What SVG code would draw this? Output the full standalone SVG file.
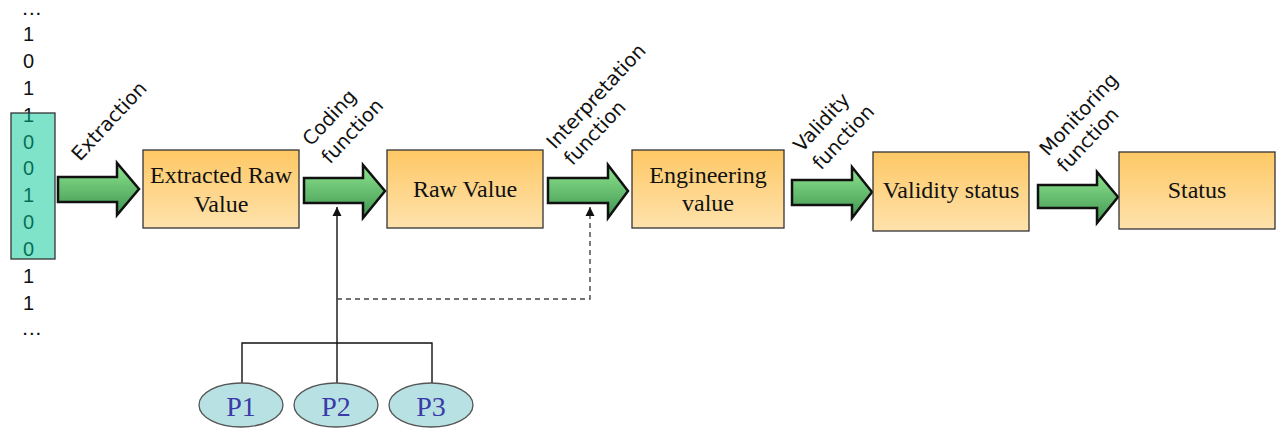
<svg xmlns="http://www.w3.org/2000/svg" width="1277" height="428" viewBox="0 0 1277 428">
<defs>
<linearGradient id="gBox" x1="0" y1="0" x2="0" y2="1">
<stop offset="0" stop-color="#fec865"/>
<stop offset="1" stop-color="#fee2ac"/>
</linearGradient>
<linearGradient id="gArr" x1="0" y1="0" x2="0" y2="1">
<stop offset="0" stop-color="#8fe68f"/>
<stop offset="1" stop-color="#3f9450"/>
</linearGradient>
<marker id="ah" viewBox="0 0 10 10" refX="10" refY="5" markerWidth="9" markerHeight="10" markerUnits="userSpaceOnUse" orient="auto">
<path d="M0,0 L10,5 L0,10 Z" fill="#111"/>
</marker>
</defs>
<style>
.box{fill:url(#gBox);stroke:#333;stroke-width:1.3}
.btxt{font-family:"Liberation Serif","Times New Roman",serif;font-size:24px;fill:#111;text-anchor:middle}
.arr{fill:url(#gArr);stroke:#111;stroke-width:2.5;stroke-linejoin:miter}
.lbl{font-family:"DejaVu Sans",Verdana,sans-serif;font-size:19.5px;fill:#111}
.bit{font-family:"Liberation Sans",Arial,sans-serif;font-size:20px;fill:#111}
.dots{font-family:"Liberation Sans",Arial,sans-serif;font-size:15px;font-weight:bold;letter-spacing:2.5px;fill:#111}
.ell{fill:#b7e1e3;stroke:#555;stroke-width:1.3}
.ptxt{font-family:"Liberation Serif","Times New Roman",serif;font-size:28px;fill:#3a3aa8;text-anchor:middle}
.ln{fill:none;stroke:#111;stroke-width:1.4}
.dash{fill:none;stroke:#444;stroke-width:1.4;stroke-dasharray:5,4}
</style>
<rect width="1277" height="428" fill="#fff"/>

<g id="bitstream">
<text class="dots" x="23" y="15">...</text>
<text class="bit" x="23" y="41">1</text>
<text class="bit" x="23" y="68">0</text>
<text class="bit" x="23" y="95">1</text>
<text class="bit" x="23" y="122">1</text>
<text class="bit" x="23" y="149">0</text>
<text class="bit" x="23" y="175">0</text>
<text class="bit" x="23" y="202">1</text>
<text class="bit" x="23" y="229">0</text>
<text class="bit" x="23" y="256">0</text>
<text class="bit" x="23" y="283">1</text>
<text class="bit" x="23" y="310">1</text>
<text class="dots" x="23" y="335">...</text>
<rect x="11" y="113" width="44" height="146" fill="#00c896" fill-opacity="0.5" stroke="#333" stroke-width="1.3"/>
</g>

<g id="arrows">
<path class="arr" d="M58,177 H117 V163 L139,189 L117,215 V202 H58 Z"/>
<path class="arr" d="M304,178 H363 V165 L385,191 L363,218 V203 H304 Z"/>
<path class="arr" d="M548,178 H608 V165 L628,191 L608,218 V203 H548 Z"/>
<path class="arr" d="M792,180 H852 V167 L872,192 L852,218 V205 H792 Z"/>
<path class="arr" d="M1038,185 H1097 V172 L1118,197 L1097,223 V208 H1038 Z"/>
</g>

<g id="labels">
<text class="lbl" transform="translate(80,162) rotate(-47)">Extraction</text>
<text class="lbl" transform="translate(311,147) rotate(-47)"><tspan x="0" y="0">Coding</tspan><tspan x="0" dy="26">function</tspan></text>
<text class="lbl" transform="translate(555,150) rotate(-47)"><tspan x="0" y="0">Interpretation</tspan><tspan x="0" dy="24">function</tspan></text>
<text class="lbl" transform="translate(802,153) rotate(-47)"><tspan x="0" y="0">Validity</tspan><tspan x="0" dy="26">function</tspan></text>
<text class="lbl" transform="translate(1048,157) rotate(-47)"><tspan x="0" y="0">Monitoring</tspan><tspan x="0" dy="24">function</tspan></text>
</g>

<g id="extracted-raw-value">
<rect class="box" x="143" y="150" width="156" height="78"/>
<text class="btxt" x="221" y="183">Extracted Raw</text>
<text class="btxt" x="221" y="212">Value</text>
</g>
<g id="raw-value">
<rect class="box" x="387" y="150" width="156" height="78"/>
<text class="btxt" x="465" y="197">Raw Value</text>
</g>
<g id="engineering-value">
<rect class="box" x="632" y="150" width="152" height="78"/>
<text class="btxt" x="708" y="183">Engineering</text>
<text class="btxt" x="708" y="211">value</text>
</g>
<g id="validity-status">
<rect class="box" x="873" y="152" width="156" height="79"/>
<text class="btxt" x="951" y="198">Validity status</text>
</g>
<g id="status">
<rect class="box" x="1119" y="152" width="156" height="77"/>
<text class="btxt" x="1197" y="198">Status</text>
</g>

<g id="connectors">
<path class="ln" d="M242,383 V343 H432 V383"/>
<path class="ln" d="M337,383 V207" marker-end="url(#ah)"/>
<path class="dash" d="M337,299 H590 V207" marker-end="url(#ah)"/>
</g>

<g id="p1">
<ellipse class="ell" cx="241" cy="405" rx="42" ry="22"/>
<text class="ptxt" x="241" y="416">P1</text>
</g>
<g id="p2">
<ellipse class="ell" cx="336" cy="405" rx="42" ry="22"/>
<text class="ptxt" x="336" y="416">P2</text>
</g>
<g id="p3">
<ellipse class="ell" cx="431" cy="405" rx="42" ry="22"/>
<text class="ptxt" x="431" y="416">P3</text>
</g>
</svg>
